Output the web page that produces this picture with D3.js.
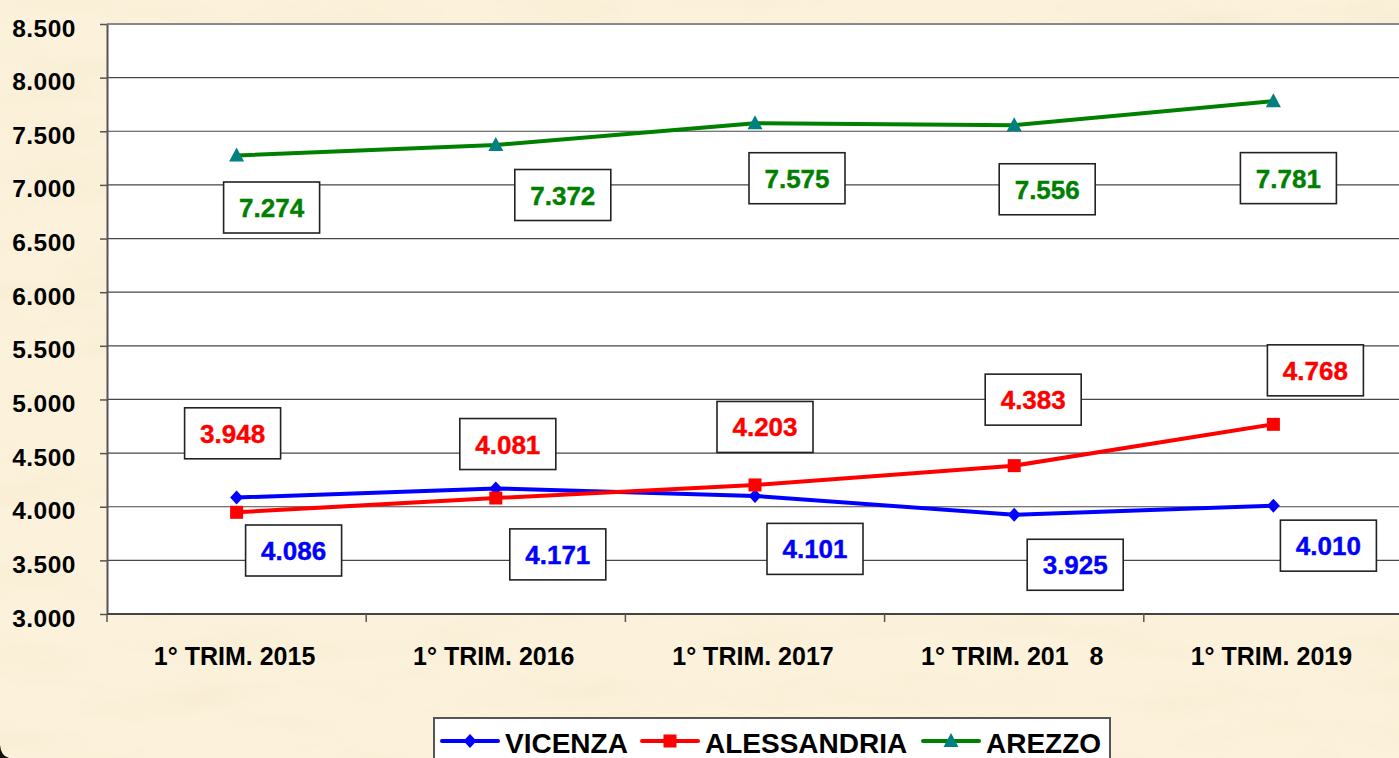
<!DOCTYPE html>
<html lang="it">
<head>
    <meta charset="UTF-8">
    <title>Trimestri</title>
    <script src="https://cdn.jsdelivr.net/npm/d3@7"></script>
    <style>
        body {
            margin: 0;
            overflow: hidden;
        }

        text {
            font-family: "Liberation Sans", Arial, sans-serif;
            font-weight: bold;
        }

        .grid line {
            stroke: #474747;
            stroke-width: 1.2px;
        }

        .label-box {
            fill: #fff;
            stroke: #222;
            stroke-width: 1.6px;
        }
    </style>
</head>
<body>

</body>

<script>
    // data
    const categories = ["1° TRIM. 2015", "1° TRIM. 2016", "1° TRIM. 2017", "1° TRIM. 201   8", "1° TRIM. 2019"];
    const vicenza = [4086, 4171, 4101, 3925, 4010];
    const alessandria = [3948, 4081, 4203, 4383, 4768];
    const arezzo = [7274, 7372, 7575, 7556, 7781];
    const seriesNames = ["VICENZA", "ALESSANDRIA", "AREZZO"];
    const yTicks = [3000, 3500, 4000, 4500, 5000, 5500, 6000, 6500, 7000, 7500, 8000, 8500];

    // where each value box sits relative to its point (layout only)
    const labelShift = {
        VICENZA: [[57, 53], [62, 66], [60, 53], [61, 50], [55, 40]],
        ALESSANDRIA: [[-4, -79], [12, -54], [10, -58], [19, -66], [42, -54]],
        AREZZO: [[35, 52], [67, 50], [42, 55], [33, 64], [15, 77]]
    };

    const series = [
        {name: seriesNames[0], values: vicenza, color: "#0000ff", marker: "diamond", markerColor: "#0000ff"},
        {name: seriesNames[1], values: alessandria, color: "#ff0000", marker: "square", markerColor: "#ff0000"},
        {name: seriesNames[2], values: arezzo, color: "#008000", marker: "triangle", markerColor: "#008080"}
    ];

    const width = 1399, height = 758;
    const plot = {left: 107, right: 1403, top: 24, bottom: 614};

    const it = d3.formatLocale({decimal: ",", thousands: ".", grouping: [3], currency: ["€", ""]});
    const fmt = it.format(",");

    const scaleX = d3.scaleBand().domain(categories).range([plot.left, plot.right]).padding(0);
    const scaleY = d3.scaleLinear().domain([3000, 8500]).range([plot.bottom, plot.top]);
    const cx = c => scaleX(c) + scaleX.bandwidth() / 2;

    const svg = d3.select("body").append("svg").attr("width", width).attr("height", height);

    // parchment background
    const defs = svg.append("defs");
    const paper = defs.append("filter").attr("id", "paper").attr("x", 0).attr("y", 0).attr("width", 1).attr("height", 1);
    paper.append("feTurbulence").attr("type", "fractalNoise").attr("baseFrequency", "0.006 0.025")
        .attr("numOctaves", 4).attr("seed", 7).attr("result", "noise");
    paper.append("feColorMatrix").attr("in", "noise").attr("type", "matrix")
        .attr("values", "0 0 0 0 0.93  0 0 0 0 0.84  0 0 0 0 0.64  2.2 0 0 0 -0.95");

    svg.append("rect").attr("width", width).attr("height", height).attr("fill", "#fcf2dc");
    svg.append("rect").attr("width", width).attr("height", height).attr("filter", "url(#paper)").attr("opacity", 0.8);
    svg.append("path").attr("d", "M0,745 Q1,756 9,758 L0,758 Z").attr("fill", "#111");

    // plot area
    svg.append("rect")
        .attr("x", plot.left).attr("y", plot.top)
        .attr("width", plot.right - plot.left).attr("height", plot.bottom - plot.top)
        .attr("fill", "#fff");

    svg.append("g").attr("class", "grid")
        .selectAll("line").data(yTicks.slice(1, -1))
        .join("line")
        .attr("x1", plot.left).attr("x2", plot.right)
        .attr("y1", d => scaleY(d)).attr("y2", d => scaleY(d));

    // top border of the plot
    svg.append("line").attr("x1", plot.left).attr("x2", plot.right)
        .attr("y1", plot.top).attr("y2", plot.top)
        .attr("stroke", "#8a8a8a").attr("stroke-width", 2);

    // y axis
    const yAxis = svg.append("g")
        .attr("transform", `translate(${plot.left},0)`)
        .call(d3.axisLeft(scaleY).tickValues(yTicks).tickFormat(fmt).tickSize(7).tickSizeOuter(0).tickPadding(24));
    yAxis.select(".domain").attr("stroke", "#555").attr("stroke-width", 2);
    yAxis.selectAll(".tick line").attr("stroke", "#555").attr("stroke-width", 1.5);
    yAxis.selectAll(".tick text")
        .attr("fill", "#000").attr("font-size", 24.5).attr("letter-spacing", "0.5px")
        .attr("dy", 12).attr("font-family", "Liberation Sans, Arial, sans-serif").attr("font-weight", "bold");

    // x axis
    const xAxis = svg.append("g").attr("transform", `translate(0,${plot.bottom})`);
    xAxis.append("line").attr("x1", plot.left).attr("x2", plot.right)
        .attr("stroke", "#444").attr("stroke-width", 2);
    xAxis.selectAll(".xtick").data(categories)
        .join("line")
        .attr("class", "xtick")
        .attr("x1", d => scaleX(d)).attr("x2", d => scaleX(d))
        .attr("y1", 0).attr("y2", 8)
        .attr("stroke", "#555").attr("stroke-width", 1.5);
    xAxis.selectAll(".xlabel").data(categories)
        .join("text")
        .attr("class", "xlabel")
        .attr("x", d => cx(d) - 2).attr("y", 51)
        .attr("text-anchor", "middle")
        .attr("font-size", 25)
        .style("white-space", "pre")
        .text(d => d);

    // markers
    function markerPath(type) {
        if (type === "diamond") return "M0,-7 L6.5,0 L0,7 L-6.5,0 Z";
        if (type === "square") return "M-6.5,-6.5 H6.5 V6.5 H-6.5 Z";
        return "M0,-8 L7.5,6 L-7.5,6 Z";
    }

    const line = d3.line().x((d, i) => cx(categories[i])).y(d => scaleY(d));

    series.forEach(s => {
        svg.append("path")
            .datum(s.values)
            .attr("d", line)
            .attr("fill", "none")
            .attr("stroke", s.color)
            .attr("stroke-width", 4)
            .attr("stroke-linejoin", "round");
    });

    series.forEach(s => {
        svg.append("g").selectAll("path").data(s.values)
            .join("path")
            .attr("transform", (d, i) => `translate(${cx(categories[i])},${scaleY(d)})`)
            .attr("d", markerPath(s.marker))
            .attr("fill", s.markerColor);
    });

    // value boxes
    const boxW = 96, boxH = 51;
    series.forEach(s => {
        const g = svg.append("g").selectAll("g").data(s.values)
            .join("g")
            .attr("transform", (d, i) => {
                const off = labelShift[s.name][i];
                return `translate(${cx(categories[i]) + off[0]},${scaleY(d) + off[1]})`;
            });
        g.append("rect").attr("class", "label-box")
            .attr("x", -boxW / 2).attr("y", -boxH / 2)
            .attr("width", boxW).attr("height", boxH);
        g.append("text")
            .attr("text-anchor", "middle")
            .attr("y", 9.5)
            .attr("font-size", 26)
            .attr("fill", s.color)
            .attr("stroke", s.color).attr("stroke-width", 0.4)
            .text(d => fmt(d));
    });

    // legend
    const legend = svg.append("g").attr("transform", "translate(434,718)");
    legend.append("rect")
        .attr("width", 676).attr("height", 60)
        .attr("fill", "#fff").attr("stroke", "#555").attr("stroke-width", 2);

    const legendX = [8, 208, 489];
    series.forEach((s, i) => {
        const item = legend.append("g").attr("transform", `translate(${legendX[i]},23)`);
        item.append("line").attr("x1", 0).attr("x2", 56)
            .attr("stroke", s.color).attr("stroke-width", 4).attr("stroke-linecap", "round");
        item.append("path").attr("transform", "translate(28,0)")
            .attr("d", markerPath(s.marker)).attr("fill", s.markerColor);
        item.append("text").attr("x", 63).attr("y", 12)
            .attr("font-size", 28).attr("fill", "#000")
            .text(s.name);
    });
</script>
</html>
